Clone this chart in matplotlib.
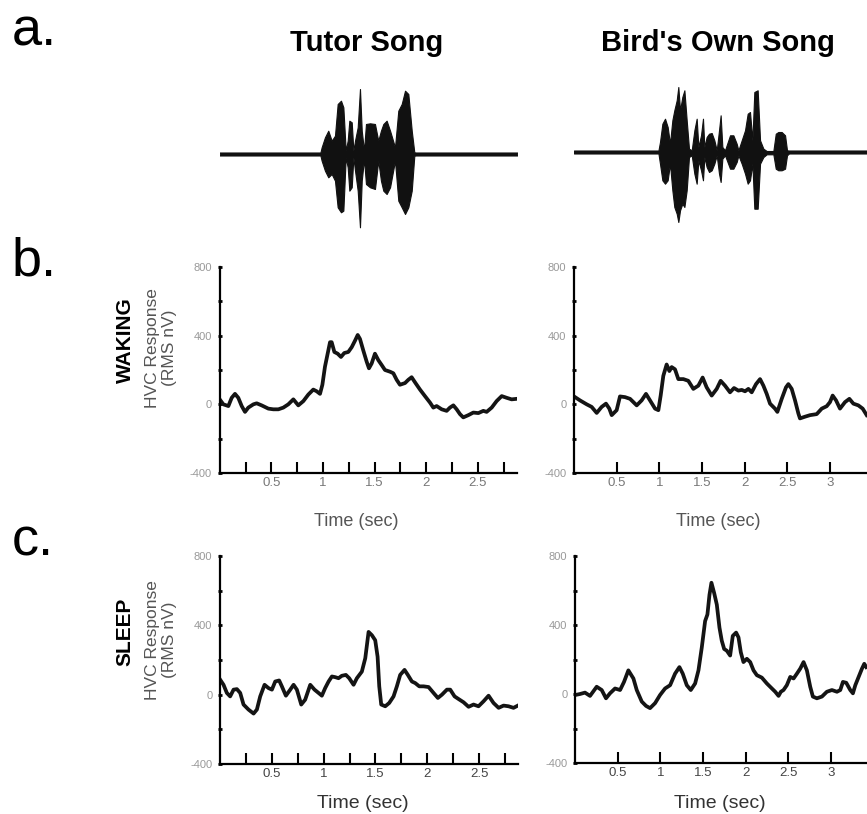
import matplotlib

matplotlib.use("Agg")
import matplotlib.pyplot as plt
import numpy as np

# ---- song oscillograms (envelope, arbitrary units) ----
tutor_wave_t = [0.0, 0.975, 0.987, 1.019, 1.051, 1.084, 1.116, 1.142, 1.174, 1.197,
                1.220, 1.239, 1.255, 1.278, 1.294, 1.310, 1.336, 1.358, 1.375, 1.397,
                1.416, 1.455, 1.503, 1.535, 1.561, 1.584, 1.616, 1.649, 1.697, 1.729,
                1.762, 1.794, 1.826, 1.859, 1.884, 1.90, 2.88]
tutor_wave_top = [1.5, 1.5, 6.7, 16.7, 23.3, 13.3, 18.3, 50, 53.3, 46.7,
                  3.3, 13.3, 33.3, 31.7, 3.3, 13.3, 26.7, 65, 23.3, 3.3,
                  30, 30.7, 30, 13.3, 23.3, 30, 33.3, 23.3, 6.7, 43.3,
                  50, 63.3, 60, 23.3, 1.7, 1.5, 1.5]
tutor_wave_bot = [1.5, 1.5, 6.7, 16.7, 23.3, 20, 26.7, 53.3, 58.3, 56.7,
                  3.3, 13.3, 36.7, 33.3, 3.3, 16.7, 36.7, 73.3, 26.7, 5,
                  30, 33.3, 35, 6.7, 26.7, 36.7, 40, 33.3, 6.7, 46.7,
                  53.3, 60, 53.3, 36.7, 1.7, 1.5, 1.5]

bos_wave_t = [0.0, 0.99, 1.008, 1.036, 1.067, 1.098, 1.125, 1.153, 1.176, 1.204,
              1.223, 1.243, 1.270, 1.294, 1.321, 1.348, 1.380, 1.411, 1.438, 1.458,
              1.489, 1.512, 1.528, 1.555, 1.583, 1.614, 1.645, 1.673, 1.700, 1.719,
              1.739, 1.770, 1.829, 1.868, 1.907, 1.927, 1.966, 2.005, 2.036, 2.063,
              2.091, 2.114, 2.153, 2.181, 2.220, 2.259, 2.337, 2.365, 2.395, 2.434,
              2.474, 2.497, 2.52, 3.43]
bos_wave_top = [1.5, 1.5, 10, 28.3, 33.3, 25, 8.3, 31.7, 41.7, 51.7,
                65, 41.7, 55, 61.7, 31.7, 3.3, 1.7, 21.7, 33.3, 5,
                16.7, 33.3, 5, 15, 18.3, 19, 11.7, 1.7, 21.7, 36.7,
                5, 1.7, 16.7, 16.7, 8.3, 1.7, 11.7, 21.7, 38.3, 40,
                11.7, 60, 61.7, 11.7, 3.3, 1, 1, 18.3, 20, 20,
                16.7, 1.7, 1.5, 1.5]
bos_wave_bot = [1.5, 1.5, 11.7, 28.3, 31.7, 28.3, 11.7, 38.3, 55, 61.7,
                70, 58.3, 51.7, 55, 38.3, 5, 3.3, 21.7, 31.7, 8.3,
                18.3, 28.3, 5, 15, 20, 18.3, 11.7, 3.3, 21.7, 30,
                6.7, 3.3, 16.7, 16.7, 10, 3.3, 11.7, 21.7, 31.7, 28.3,
                11.7, 56.7, 56.7, 11.7, 5, 2.3, 2.3, 16.7, 18.3, 18.3,
                16.7, 3.3, 1.5, 1.5]

# ---- HVC responses (RMS nV) ----
wake_tutor_t = [0.00, 0.035, 0.084, 0.116, 0.148, 0.180, 0.213, 0.245, 0.277, 0.326,
                0.358, 0.406, 0.471, 0.519, 0.568, 0.616, 0.664, 0.713, 0.761, 0.810,
                0.858, 0.906, 0.939, 0.971, 0.994, 1.019, 1.045, 1.068, 1.084, 1.110,
                1.142, 1.174, 1.206, 1.245, 1.278, 1.310, 1.336, 1.358, 1.390, 1.423,
                1.445, 1.471, 1.503, 1.536, 1.568, 1.600, 1.649, 1.681, 1.713, 1.745,
                1.794, 1.826, 1.858, 1.891, 1.939, 1.987, 2.036, 2.068, 2.100, 2.149,
                2.197, 2.229, 2.262, 2.294, 2.326, 2.358, 2.407, 2.455, 2.504, 2.552,
                2.584, 2.633, 2.681, 2.730, 2.778, 2.826, 2.875]
wake_tutor_v = [29, 0, -10, 38, 61, 38, -10, -44, -19, 0,
                6, -6, -25, -29, -29, -19, 0, 29, -6, 19,
                57, 86, 76, 61, 114, 219, 295, 362, 362, 305,
                295, 276, 299, 305, 333, 371, 404, 381, 314, 248,
                210, 238, 295, 257, 229, 200, 190, 181, 143, 114,
                124, 143, 158, 128, 86, 48, 10, -19, -10, -29,
                -38, -19, -6, -29, -57, -76, -63, -48, -51, -38,
                -44, -19, 19, 48, 38, 29, 32]

wake_bos_t = [0.0, 0.070, 0.149, 0.207, 0.266, 0.324, 0.375, 0.414, 0.442, 0.500,
              0.539, 0.598, 0.657, 0.735, 0.793, 0.844, 0.891, 0.950, 0.989, 1.016,
              1.047, 1.086, 1.118, 1.145, 1.184, 1.223, 1.282, 1.340, 1.399, 1.458,
              1.508, 1.555, 1.614, 1.673, 1.719, 1.770, 1.829, 1.876, 1.927, 1.966,
              2.005, 2.044, 2.083, 2.134, 2.181, 2.220, 2.259, 2.298, 2.356, 2.384,
              2.435, 2.485, 2.513, 2.552, 2.591, 2.630, 2.649, 2.708, 2.767, 2.845,
              2.904, 2.962, 3.001, 3.032, 3.072, 3.118, 3.177, 3.228, 3.275, 3.333,
              3.384, 3.431]
wake_bos_v = [46, 23, 0, -15, -50, -15, 4, -25, -63, -34,
              46, 42, 32, -6, 23, 61, 23, -25, -34, 51,
              166, 232, 194, 217, 204, 147, 147, 137, 90, 109,
              156, 99, 51, 90, 137, 109, 70, 95, 80, 84,
              76, 90, 70, 118, 147, 109, 61, 4, -25, -44,
              32, 99, 118, 90, 23, -53, -82, -72, -63, -57,
              -25, -11, 13, 51, 23, -25, 13, 32, 4, -6,
              -25, -63]

sleep_tutor_t = [0.002, 0.034, 0.066, 0.098, 0.131, 0.163, 0.195, 0.227, 0.275, 0.324,
                 0.356, 0.388, 0.430, 0.468, 0.501, 0.533, 0.571, 0.597, 0.636, 0.678,
                 0.710, 0.742, 0.784, 0.822, 0.871, 0.912, 0.951, 0.983, 1.015, 1.048,
                 1.080, 1.112, 1.144, 1.176, 1.215, 1.247, 1.289, 1.321, 1.369, 1.402,
                 1.434, 1.466, 1.498, 1.521, 1.537, 1.556, 1.595, 1.633, 1.675, 1.707,
                 1.739, 1.781, 1.813, 1.852, 1.884, 1.923, 1.965, 2.013, 2.061, 2.103,
                 2.142, 2.190, 2.222, 2.264, 2.302, 2.351, 2.399, 2.447, 2.495, 2.544,
                 2.592, 2.640, 2.689, 2.737, 2.785, 2.833, 2.875]
sleep_tutor_v = [86, 57, 10, -10, 29, 32, 10, -57, -86, -109,
                 -86, -10, 57, 38, 29, 76, 82, 48, -6, 29,
                 57, 29, -57, -29, 57, 29, 10, -6, 38, 76,
                 105, 101, 95, 109, 114, 95, 57, 95, 133, 210,
                 362, 343, 314, 219, 48, -57, -67, -48, -10, 48,
                 114, 143, 114, 76, 67, 48, 48, 44, 10, -19,
                 0, 29, 29, -10, -25, -44, -70, -57, -67, -38,
                 -6, -48, -76, -63, -67, -76, -63]

sleep_bos_t = [0.000, 0.059, 0.117, 0.176, 0.254, 0.313, 0.363, 0.410, 0.469, 0.528,
               0.574, 0.625, 0.684, 0.723, 0.782, 0.832, 0.879, 0.938, 0.996, 1.055,
               1.114, 1.172, 1.223, 1.262, 1.309, 1.356, 1.407, 1.446, 1.485, 1.524,
               1.551, 1.575, 1.598, 1.630, 1.661, 1.692, 1.719, 1.747, 1.778, 1.817,
               1.848, 1.887, 1.915, 1.942, 1.973, 2.013, 2.052, 2.091, 2.130, 2.188,
               2.247, 2.306, 2.345, 2.384, 2.411, 2.442, 2.481, 2.521, 2.560, 2.599,
               2.638, 2.677, 2.716, 2.755, 2.786, 2.833, 2.892, 2.950, 3.009, 3.068,
               3.107, 3.138, 3.177, 3.224, 3.255, 3.283, 3.322, 3.361, 3.388, 3.411]
sleep_bos_v = [-6, 0, 8, -11, 42, 23, -25, 4, 32, 23,
               70, 137, 90, 23, -44, -69, -82, -53, -6, 32,
               51, 118, 156, 118, 51, 23, 61, 137, 270, 423,
               461, 575, 645, 585, 518, 385, 309, 261, 251, 223,
               337, 356, 328, 242, 185, 204, 185, 137, 109, 95,
               61, 32, 13, -11, 13, 23, 51, 99, 90, 118,
               147, 185, 137, 42, -15, -25, -15, 13, 23, 13,
               23, 70, 65, 23, 4, 51, 99, 147, 175, 156]

song_titles = ["Tutor Song", "Bird's Own Song"]
state_labels = ["WAKING", "SLEEP"]
tutor_ticks = [0.25, 0.5, 0.75, 1.0, 1.25, 1.5, 1.75, 2.0, 2.25, 2.5, 2.75]
tutor_ticklabels = ["", "0.5", "", "1", "", "1.5", "", "2", "", "2.5", ""]
bos_ticks = [0.5, 1.0, 1.5, 2.0, 2.5, 3.0]
bos_ticklabels = ["0.5", "1", "1.5", "2", "2.5", "3"]
y_ticks = [-400, -200, 0, 200, 400, 600, 800]
y_ticklabels = ["-400", "", "0", "", "400", "", "800"]

W, H = 867, 814
plt.rcParams["font.family"] = ["Liberation Sans", "DejaVu Sans"]


def rect(x0, y_top, x1, y_bot):
    # pixel box -> figure fraction
    return [x0 / W, 1 - y_bot / H, (x1 - x0) / W, (y_bot - y_top) / H]


def put(fig, x, y, s, **kw):
    fig.text(x / W, 1 - y / H, s, **kw)


def trace_axes(fig, box, xmax, ticks, labels, t, v, dark):
    ax = fig.add_axes(rect(*box))
    ax.plot(t, v, color="#141414", lw=2.7, solid_joinstyle="round")
    ax.set_xlim(0, xmax)
    ax.set_ylim(-400, 800)
    for s in ["top", "right"]:
        ax.spines[s].set_visible(False)
    for s in ["left", "bottom"]:
        ax.spines[s].set_linewidth(1.6)
    ax.set_xticks(ticks)
    ax.set_xticklabels(labels)
    ax.tick_params(axis="x", direction="in", length=8, width=1.5, pad=3,
                   labelsize=9.5, labelcolor="#444" if dark else "#777")
    ax.set_yticks(y_ticks)
    ax.set_yticklabels(y_ticklabels)
    ax.tick_params(axis="y", direction="inout", length=3, width=2, pad=4,
                   labelsize=8, labelcolor="#999")
    ax.patch.set_alpha(0)
    return ax


def wave_axes(fig, box, xmax, t, top, bot):
    ax = fig.add_axes(rect(*box))
    ax.fill_between(t, top, -np.asarray(bot), color="#111", lw=0.8)
    ax.set_xlim(0, xmax)
    ax.set_ylim(-76, 76)
    ax.axis("off")
    return ax


def main():
    fig = plt.figure(figsize=(W / 100, H / 100), dpi=100)

    # a. song oscillograms
    wave_axes(fig, (219.7, 78, 517.2, 230), 2.88, tutor_wave_t, tutor_wave_top, tutor_wave_bot)
    wave_axes(fig, (574, 76, 866.6, 228), 3.43, bos_wave_t, bos_wave_top, bos_wave_bot)

    # b. waking responses
    trace_axes(fig, (219.7, 267, 517.2, 473), 2.88, tutor_ticks, tutor_ticklabels,
               wake_tutor_t, wake_tutor_v, False)
    trace_axes(fig, (574, 267, 866.6, 473), 3.43, bos_ticks, bos_ticklabels,
               wake_bos_t, wake_bos_v, False)

    # c. sleep responses
    trace_axes(fig, (220, 556, 518.4, 764), 2.88, tutor_ticks, tutor_ticklabels,
               sleep_tutor_t, sleep_tutor_v, True)
    trace_axes(fig, (575, 556, 867, 763), 3.42, bos_ticks, bos_ticklabels,
               sleep_bos_t, sleep_bos_v, True)

    # panel letters
    for letter, yb in zip(["a.", "b.", "c."], [46, 275, 556]):
        put(fig, 12, yb, letter, fontsize=39, ha="left", va="baseline")

    # column titles
    for title, xc in zip(song_titles, [367, 718]):
        put(fig, xc, 43, title, fontsize=21, fontweight="bold", ha="center", va="center")

    # row labels
    for state, yc in zip(state_labels, [340, 632]):
        put(fig, 125, yc, state, fontsize=15, fontweight="bold", rotation=90,
            ha="center", va="center")
        put(fig, 161, yc + 8, "HVC Response\n(RMS nV)", fontsize=12.5, rotation=90,
            ha="center", va="center", color="#555", linespacing=1.1)

    # x axis titles
    for xc in [356, 718]:
        put(fig, xc, 521, "Time (sec)", fontsize=13, ha="center", va="center", color="#555")
    for xc in [363, 720]:
        put(fig, xc, 803, "Time (sec)", fontsize=14, ha="center", va="center", color="#333")

    fig.savefig("out.png", dpi=100)
    plt.close(fig)


if __name__ == "__main__":
    main()
